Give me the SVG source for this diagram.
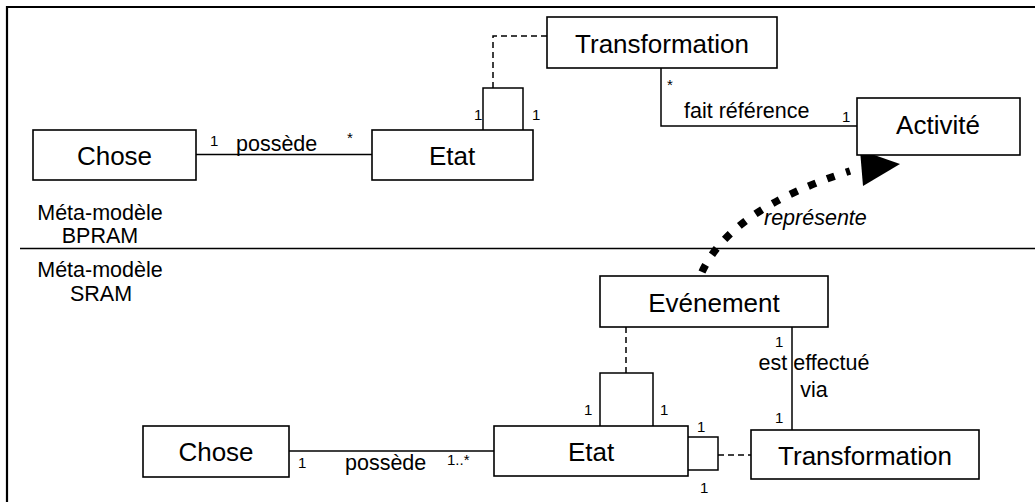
<svg xmlns="http://www.w3.org/2000/svg" width="1035" height="502" viewBox="0 0 1035 502">
<style>
.box{fill:#fff;stroke:#000;stroke-width:1.6}
.ln{fill:none;stroke:#000;stroke-width:1.5}
.dash{fill:none;stroke:#000;stroke-width:1.5;stroke-dasharray:6 4}
.big{font-family:"Liberation Sans",Arial,sans-serif;font-size:26px;fill:#000;text-anchor:middle}
.lbl{font-family:"Liberation Sans",Arial,sans-serif;font-size:21.5px;fill:#000}
.sm{font-family:"Liberation Sans",Arial,sans-serif;font-size:15px;fill:#000}
.it{font-style:italic}
</style>
<rect width="1035" height="502" fill="#fff"/>
<g id="frame">
<path d="M7,502 V7 H1035" fill="none" stroke="#000" stroke-width="2.2"/>
<line x1="20" y1="248.5" x2="1035" y2="248.5" stroke="#000" stroke-width="1.6"/>
<text class="lbl" x="100" y="220" text-anchor="middle">Méta-modèle</text>
<text class="lbl" x="100" y="243" text-anchor="middle">BPRAM</text>
<text class="lbl" x="100" y="277" text-anchor="middle">Méta-modèle</text>
<text class="lbl" x="101" y="301" text-anchor="middle">SRAM</text>
</g>
<g id="connectors">
<line class="ln" x1="196" y1="154.5" x2="372" y2="154.5"/>
<text class="sm" x="210" y="146">1</text>
<text class="lbl" x="236" y="151">possède</text>
<text class="sm" x="347" y="143">*</text>
<path class="ln" d="M483,130 V88 H523 V130"/>
<text class="sm" x="474" y="120">1</text>
<text class="sm" x="532" y="120">1</text>
<path class="dash" d="M493,88 V36 H547"/>
<path class="ln" d="M661,68 V126 H857"/>
<text class="sm" x="667" y="90">*</text>
<text class="lbl" x="684" y="118">fait référence</text>
<text class="sm" x="842" y="122">1</text>
<path d="M702,272 Q731,209 850,171" fill="none" stroke="#000" stroke-width="7.5" stroke-dasharray="8 12"/>
<polygon points="860,150 900,164 863,186" fill="#000"/>
<text class="lbl it" x="764" y="225">représente</text>
<line class="ln" x1="289" y1="451" x2="494" y2="451"/>
<text class="sm" x="298" y="468">1</text>
<text class="lbl" x="345" y="470">possède</text>
<text class="sm" x="447" y="465">1..*</text>
<path class="ln" d="M600,426 V373 H653 V426"/>
<path class="dash" d="M626,327 V373"/>
<text class="sm" x="584" y="415">1</text>
<text class="sm" x="660" y="415">1</text>
<path class="ln" d="M688,437 H718 V470 H688"/>
<text class="sm" x="697" y="432">1</text>
<text class="sm" x="700" y="493">1</text>
<path class="dash" d="M718,455 H751"/>
<line class="ln" x1="792" y1="327" x2="792" y2="430"/>
<text class="sm" x="775" y="347">1</text>
<text class="lbl" x="814" y="370" text-anchor="middle">est effectué</text>
<text class="lbl" x="814" y="397" text-anchor="middle">via</text>
<text class="sm" x="775" y="423">1</text>
</g>
<g id="chose1"><rect class="box" x="33" y="130" width="163" height="50"/><text class="big" x="114.5" y="165">Chose</text></g>
<g id="etat1"><rect class="box" x="372" y="130" width="161" height="50"/><text class="big" x="452" y="165">Etat</text></g>
<g id="transformation1"><rect class="box" x="547" y="17" width="230" height="51"/><text class="big" x="662" y="53">Transformation</text></g>
<g id="activite"><rect class="box" x="857" y="98" width="163" height="57"/><text class="big" x="938" y="134">Activité</text></g>
<g id="chose2"><rect class="box" x="143" y="426" width="146" height="51"/><text class="big" x="216" y="461">Chose</text></g>
<g id="evenement"><rect class="box" x="600" y="276" width="228" height="51"/><text class="big" x="714" y="312">Evénement</text></g>
<g id="etat2"><rect class="box" x="494" y="426" width="194" height="50"/><text class="big" x="591" y="461">Etat</text></g>
<g id="transformation2"><rect class="box" x="751" y="430" width="228" height="49"/><text class="big" x="865" y="465">Transformation</text></g>
</svg>
